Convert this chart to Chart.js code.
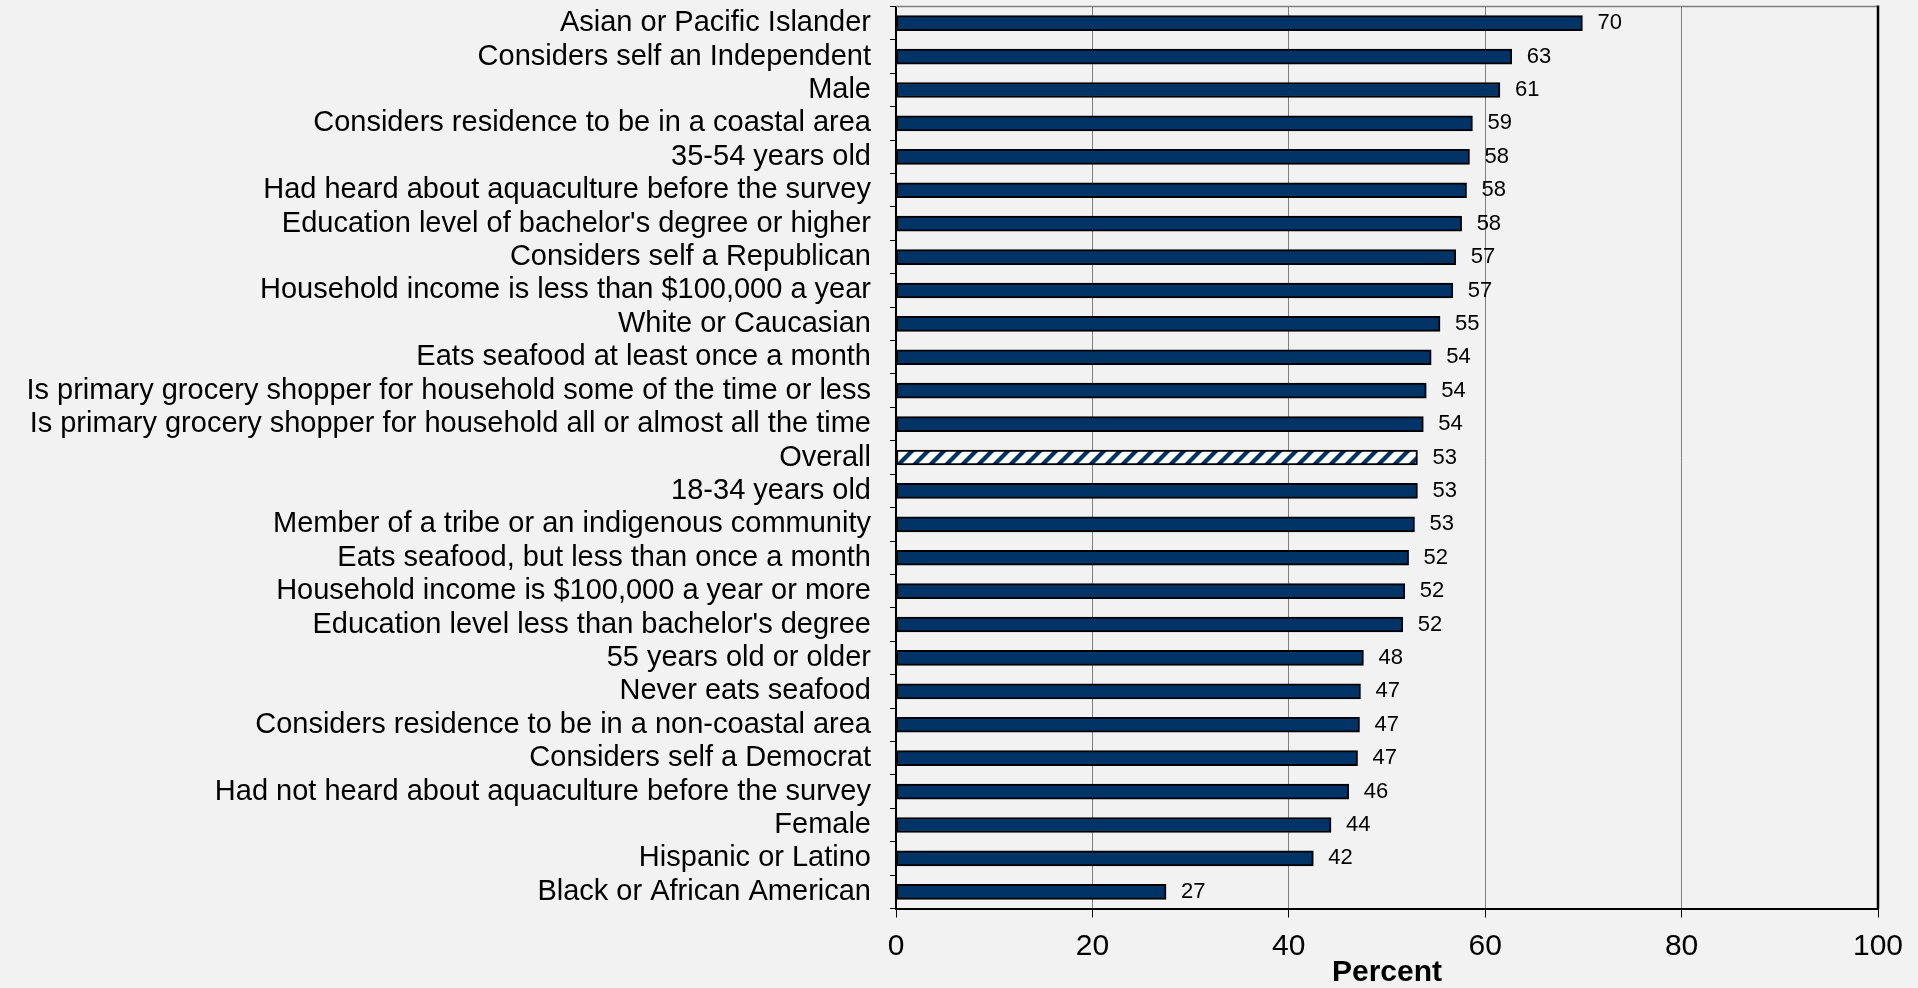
<!DOCTYPE html>
<html>
<head>
<meta charset="utf-8" />
<title>Percent by group</title>
<script src="https://cdn.jsdelivr.net/npm/chart.js@4.4.0/dist/chart.umd.min.js"></script>
<style>
  html, body { margin: 0; padding: 0; background: #f2f2f2; }
  .wrap { width: 1918px; height: 988px; position: relative; }
</style>
</head>
<body>
<div class="wrap"><canvas id="chart1"></canvas></div>
<script>
// categories, top to bottom
const groups = [
  "Asian or Pacific Islander",
  "Considers self an Independent",
  "Male",
  "Considers residence to be in a coastal area",
  "35-54 years old",
  "Had heard about aquaculture before the survey",
  "Education level of bachelor's degree or higher",
  "Considers self a Republican",
  "Household income is less than $100,000 a year",
  "White or Caucasian",
  "Eats seafood at least once a month",
  "Is primary grocery shopper for household some of the time or less",
  "Is primary grocery shopper for household all or almost all the time",
  "Overall",
  "18-34 years old",
  "Member of a tribe or an indigenous community",
  "Eats seafood, but less than once a month",
  "Household income is $100,000 a year or more",
  "Education level less than bachelor's degree",
  "55 years old or older",
  "Never eats seafood",
  "Considers residence to be in a non-coastal area",
  "Considers self a Democrat",
  "Had not heard about aquaculture before the survey",
  "Female",
  "Hispanic or Latino",
  "Black or African American",
];

// bar lengths (percent)
const percents = [
  69.9, 62.7, 61.5, 58.7, 58.4, 58.1, 57.6, 57.0, 56.7, 55.4, 54.5, 54.0, 53.7,
  53.1, 53.1, 52.8, 52.2, 51.8, 51.6, 47.6, 47.3, 47.2, 47.0, 46.1, 44.3, 42.5,
  27.5,
];

// numbers printed next to the bars
const shownValues = [
  70, 63, 61, 59, 58, 58, 58, 57, 57, 55, 54, 54, 54, 53, 53, 53, 52, 52, 52,
  48, 47, 47, 47, 46, 44, 42, 27,
];

const xTicks = [0, 20, 40, 60, 80, 100];

const overallIndex = groups.indexOf("Overall");
const navy = "#003366";

// hatch pattern for the "Overall" bar
function makeHatch() {
  const tile = document.createElement("canvas");
  tile.width = 16;
  tile.height = 16;
  const c = tile.getContext("2d");
  c.fillStyle = "#ffffff";
  c.fillRect(0, 0, 16, 16);
  c.fillStyle = navy;
  for (let k = -1; k <= 1; k++) {
    const o = k * 16;
    c.beginPath();
    c.moveTo(o, 16);
    c.lineTo(o + 6, 16);
    c.lineTo(o + 22, 0);
    c.lineTo(o + 16, 0);
    c.closePath();
    c.fill();
  }
  return document.getElementById("chart1").getContext("2d").createPattern(tile, "repeat");
}

const hatch = makeHatch();
const barColors = groups.map((g, i) => (i === overallIndex ? hatch : navy));

// value labels to the right of each bar
const valueLabels = {
  id: "valueLabels",
  afterDatasetsDraw(chart) {
    const ctx = chart.ctx;
    const meta = chart.getDatasetMeta(0);
    ctx.save();
    ctx.font = "22px 'Liberation Sans', Arial, sans-serif";
    ctx.fillStyle = "#000";
    ctx.textAlign = "left";
    ctx.textBaseline = "middle";
    meta.data.forEach((bar, i) => {
      ctx.fillText(String(shownValues[i]), bar.x + 15, bar.y);
    });
    ctx.restore();
  },
};

// top and right edges of the plot box
const plotFrame = {
  id: "plotFrame",
  afterDraw(chart) {
    const { ctx, chartArea } = chart;
    ctx.save();
    ctx.strokeStyle = "#7f7f7f";
    ctx.lineWidth = 1.5;
    ctx.beginPath();
    ctx.moveTo(chartArea.left, chartArea.top);
    ctx.lineTo(chartArea.right, chartArea.top);
    ctx.stroke();
    ctx.strokeStyle = "#000";
    ctx.lineWidth = 2.5;
    ctx.beginPath();
    ctx.moveTo(chartArea.right, chartArea.top - 1);
    ctx.lineTo(chartArea.right, chartArea.bottom);
    ctx.stroke();
    ctx.restore();
  },
};

const ctx1 = document.getElementById("chart1").getContext("2d");
const chart1 = new Chart(ctx1, {
  type: "bar",
  data: {
    labels: groups,
    datasets: [
      {
        data: percents,
        backgroundColor: barColors,
        borderColor: "#000",
        borderWidth: 2,
        borderSkipped: false,
        barThickness: 15,
      },
    ],
  },
  options: {
    indexAxis: "y",
    responsive: true,
    maintainAspectRatio: false,
    animation: false,
    layout: {
      padding: { top: 6.5, right: 40, bottom: 0, left: 0 },
    },
    plugins: {
      legend: { display: false },
      tooltip: { enabled: false },
    },
    scales: {
      x: {
        min: 0,
        max: 100,
        afterBuildTicks(scale) {
          scale.ticks = xTicks.map((v) => ({ value: v }));
        },
        afterFit(scale) {
          scale.height = 79.5;
          scale.paddingLeft = 0;
          scale.paddingRight = 0;
        },
        grid: {
          color: "#7f7f7f",
          lineWidth: 1,
          tickColor: "#000",
          tickLength: 9,
        },
        border: { color: "#000", width: 2 },
        ticks: {
          color: "#000",
          padding: 11,
          font: { family: "'Liberation Sans', Arial, sans-serif", size: 30 },
        },
        title: {
          display: true,
          text: "Percent",
          color: "#000",
          padding: 0,
          font: {
            family: "'Liberation Sans', Arial, sans-serif",
            size: 30,
            weight: "bold",
            lineHeight: 1,
          },
        },
      },
      y: {
        afterFit(scale) {
          scale.width = 896;
          scale.paddingTop = 0;
          scale.paddingBottom = 0;
        },
        grid: {
          drawOnChartArea: false,
          color: "#000",
          tickLength: 6,
        },
        border: { color: "#000", width: 2 },
        ticks: {
          autoSkip: false,
          color: "#000",
          padding: 19,
          font: { family: "'Liberation Sans', Arial, sans-serif", size: 29 },
        },
      },
    },
  },
  plugins: [valueLabels, plotFrame],
});
</script>
</body>
</html>
